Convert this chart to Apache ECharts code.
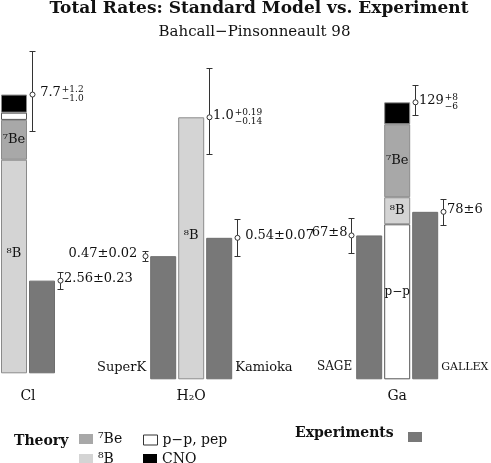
<!DOCTYPE html>
<html><head><meta charset="utf-8">
<script src="https://cdn.jsdelivr.net/npm/echarts@6/dist/echarts.min.js"></script>
<style>html,body{margin:0;padding:0;background:#fff}#c{width:491px;height:463px}</style>
</head><body><div id="c"></div>
<script>
// ---------------- data ----------------
const groupNames = ['Cl', 'H₂O', 'Ga'];
const clCategories = ['Cl theory', 'Cl experiment'];
const h2oCategories = ['SuperK', 'H₂O theory', 'Kamioka'];
const gaCategories = ['SAGE', 'Ga theory', 'GALLEX'];

// Chlorine (SNU): theory components, bottom to top
const clB8 = 5.9, clBe7 = 1.1, clPPpep = 0.2, clCNO = 0.5;
const clTheory = 7.7, clTheoryErr = [1.0, 1.2];          // [minus, plus]
const clExp = 2.56, clExpErr = 0.23;

// Water (ratio to BP98 8B)
const h2oB8 = 1.0, h2oTheoryErr = [0.14, 0.19];
const superK = 0.47, superKErr = 0.02;
const kamioka = 0.54, kamiokaErr = 0.07;

// Gallium (SNU): theory components, bottom to top
const gaPPpep = 72.2, gaB8 = 12.6, gaBe7 = 34.0, gaCNO = 10.2;
const gaTheory = 129, gaTheoryErr = [6, 8];
const sage = 67, sageErr = 8;
const gallex = 78, gallexErr = 6;

// value labels: [main, superscript, subscript]
const clLabels = [[' 7.7', '+1.2', '−1.0'], ['2.56±0.23']];
const h2oLabels = [['0.47±0.02 '], ['1.0', '+0.19', '−0.14'], [' 0.54±0.07']];
const gaLabels = [['67±8'], ['129', '+8', '−6'], ['78±6']];

// ---------------- style ----------------
const SERIF = '"DejaVu Serif", serif';
const C_BE7 = '#a8a8a8', C_B8 = '#d4d4d4', C_PP = '#ffffff', C_CNO = '#000000', C_EXP = '#787878';
const BORDER = '#8a8a8a';
const TXT = '#111';

const cnv = document.createElement('canvas').getContext('2d');
function measure(t, font) { cnv.font = font; return cnv.measureText(t).width; }

// grid layout
const grids = [
  { left: -1, width: 57, base: 373.3, max: 9, scale: 36.2, nameGap: 23 },
  { left: 149.2, width: 84, base: 379.3, max: 1.2, scale: 262, nameGap: 17 },
  { left: 355.2, width: 84, base: 379.3, max: 150, scale: 2.147, nameGap: 17 }
];
const cats = [clCategories, h2oCategories, gaCategories];

function barSeries(name, g, data, color, label, extra) {
  return Object.assign({
    type: 'bar', name, xAxisIndex: g, yAxisIndex: g, stack: 'theory' + g,
    barWidth: 26, barGap: '-100%', data,
    itemStyle: { color, borderColor: name === 'p−p, pep' ? '#555' : BORDER, borderWidth: 1 },
    label: label ? Object.assign({ show: true, position: 'inside', fontFamily: SERIF, fontSize: 13, color: TXT }, label) : { show: false },
    emphasis: { disabled: true }, silent: true, animation: false
  }, extra || {});
}

function sideLabel(text, side, size) {
  const base = { show: true, formatter: text, verticalAlign: 'middle', fontFamily: SERIF, fontSize: size || 13, color: TXT };
  return side < 0
    ? Object.assign(base, { position: ['0%', '100%'], align: 'right', offset: [-4, -12] })
    : Object.assign(base, { position: ['100%', '100%'], align: 'left', offset: [3, -12] });
}

function expSeries(g, data) {
  return {
    type: 'bar', name: 'Experiments', xAxisIndex: g, yAxisIndex: g,
    barWidth: 26, barGap: '-100%', data,
    itemStyle: { color: C_EXP, borderColor: '#6e6e6e', borderWidth: 1 },
    emphasis: { disabled: true }, silent: true, animation: false
  };
}

function errSeries(g, data, labels) {
  return {
    type: 'custom', xAxisIndex: g, yAxisIndex: g, clip: false, silent: true, animation: false, z: 5,
    data,
    renderItem: (params, api) => {
      const cat = api.value(0), v = api.value(1), lo = api.value(2), hi = api.value(3), side = api.value(4);
      const p = api.coord([cat, v]);
      const pt = api.coord([cat, v + hi]);
      const pb = api.coord([cat, v - lo]);
      const x = Math.round(p[0] + side * 18) + 0.5;
      const yt = Math.round(pt[1]) + 0.5, yb = Math.round(pb[1]) + 0.5;
      const st = { stroke: '#333', lineWidth: 1 };
      const ch = [
        { type: 'line', shape: { x1: x, y1: yt, x2: x, y2: yb }, style: st },
        { type: 'line', shape: { x1: x - 3, y1: yt, x2: x + 3, y2: yt }, style: st },
        { type: 'line', shape: { x1: x - 3, y1: yb, x2: x + 3, y2: yb }, style: st },
        { type: 'circle', shape: { cx: x, cy: p[1], r: 2.5 }, style: { fill: '#fff', stroke: '#333', lineWidth: 1 } }
      ];
      const t = labels[params.dataIndex];
      const mf = '13px ' + SERIF, sf = '9px ' + SERIF;
      if (side > 0) {
        const tx = x + 3.5;
        ch.push({ type: 'text', style: { text: t[0], x: tx, y: p[1] - 2, font: mf, fill: TXT, align: 'left', verticalAlign: 'middle' } });
        if (t.length > 1) {
          const w = measure(t[0], mf) + 1;
          ch.push({ type: 'text', style: { text: t[1], x: tx + w, y: p[1] - 5, font: sf, fill: TXT, align: 'left', verticalAlign: 'middle' } });
          ch.push({ type: 'text', style: { text: t[2], x: tx + w, y: p[1] + 4, font: sf, fill: TXT, align: 'left', verticalAlign: 'middle' } });
        }
      } else {
        ch.push({ type: 'text', style: { text: t[0], x: x - 4, y: p[1] - 3, font: mf, fill: TXT, align: 'right', verticalAlign: 'middle' } });
      }
      return { type: 'group', children: ch };
    }
  };
}

const series = [
  // Cl
  barSeries('⁸B', 0, [clB8, '-'], C_B8, { formatter: '⁸B', offset: [0, -13] }),
  barSeries('⁷Be', 0, [clBe7, '-'], C_BE7, { formatter: '⁷Be' }),
  barSeries('p−p, pep', 0, [clPPpep, '-'], C_PP, null),
  barSeries('CNO', 0, [clCNO, '-'], C_CNO, null),
  expSeries(0, ['-', clExp]),
  errSeries(0, [[0, clTheory, clTheoryErr[0], clTheoryErr[1], 1], [1, clExp, clExpErr, clExpErr, 1]], clLabels),
  // H2O
  barSeries('⁸B', 1, ['-', h2oB8, '-'], C_B8, { formatter: '⁸B', offset: [0, -13] }),
  expSeries(1, [{ value: superK, label: sideLabel('SuperK', -1) }, '-', { value: kamioka, label: sideLabel('Kamioka', 1) }]),
  errSeries(1, [[0, superK, superKErr, superKErr, -1], [1, h2oB8, h2oTheoryErr[0], h2oTheoryErr[1], 1], [2, kamioka, kamiokaErr, kamiokaErr, 1]], h2oLabels),
  // Ga
  barSeries('p−p, pep', 2, ['-', gaPPpep, '-'], C_PP, { formatter: 'p−p', offset: [0, -10], fontSize: 12 }),
  barSeries('⁸B', 2, ['-', gaB8, '-'], C_B8, { formatter: '⁸B' }),
  barSeries('⁷Be', 2, ['-', gaBe7, '-'], C_BE7, { formatter: '⁷Be' }),
  barSeries('CNO', 2, ['-', gaCNO, '-'], C_CNO, null),
  expSeries(2, [{ value: sage, label: sideLabel('SAGE', -1, 12) }, '-', { value: gallex, label: sideLabel('GALLEX', 1, 11) }]),
  errSeries(2, [[0, sage, sageErr, sageErr, -1], [1, gaTheory, gaTheoryErr[0], gaTheoryErr[1], 1], [2, gallex, gallexErr, gallexErr, 1]], gaLabels)
];

const legendBase = {
  padding: 0, itemWidth: 14, itemHeight: 10, icon: 'rect', selectedMode: false,
  textStyle: { fontFamily: SERIF, fontSize: 14, color: TXT }
};

const option = {
  backgroundColor: '#fff',
  animation: false,
  title: [
    { text: 'Total Rates: Standard Model vs. Experiment', left: 259, top: 0, textAlign: 'center', padding: 0,
      textStyle: { fontFamily: SERIF, fontWeight: 'bold', fontSize: 17, color: TXT } },
    { text: 'Bahcall−Pinsonneault 98', left: 254.5, top: 25, textAlign: 'center', padding: 0,
      textStyle: { fontFamily: SERIF, fontWeight: 'normal', fontSize: 15, color: TXT } }
  ],
  grid: grids.map(g => ({ left: g.left, width: g.width, top: g.base - g.max * g.scale, height: g.max * g.scale, containLabel: false })),
  xAxis: grids.map((g, i) => ({
    type: 'category', gridIndex: i, data: cats[i],
    axisLine: { show: false }, axisTick: { show: false }, axisLabel: { show: false }, splitLine: { show: false },
    name: groupNames[i], nameLocation: 'middle', nameGap: g.nameGap,
    nameTextStyle: { fontFamily: SERIF, fontSize: 14, color: TXT, verticalAlign: 'middle' }
  })),
  yAxis: grids.map((g, i) => ({ type: 'value', gridIndex: i, min: 0, max: g.max, show: false })),
  legend: [
    Object.assign({}, legendBase, { data: ['⁷Be'], left: 79, top: 432, itemStyle: { borderWidth: 0 } }),
    Object.assign({}, legendBase, { data: ['⁸B'], left: 79, top: 452, itemStyle: { borderWidth: 0 } }),
    Object.assign({}, legendBase, { data: ['p−p, pep'], left: 143, top: 433, itemStyle: { borderColor: '#333', borderWidth: 1 } }),
    Object.assign({}, legendBase, { data: ['CNO'], left: 143, top: 452, itemStyle: { borderWidth: 0 } }),
    Object.assign({}, legendBase, { data: ['Experiments'], left: 408, top: 432, formatter: () => '', itemStyle: { borderWidth: 0 } })
  ],
  graphic: [
    { type: 'text', left: 14, top: 434, style: { text: 'Theory', font: 'bold 14px ' + SERIF, fill: TXT } },
    { type: 'text', left: 295, top: 426, style: { text: 'Experiments', font: 'bold 14px ' + SERIF, fill: TXT } }
  ],
  series
};

const chart = echarts.init(document.getElementById('c'), null, { renderer: 'canvas' });
chart.setOption(option);
</script>
</body></html>
